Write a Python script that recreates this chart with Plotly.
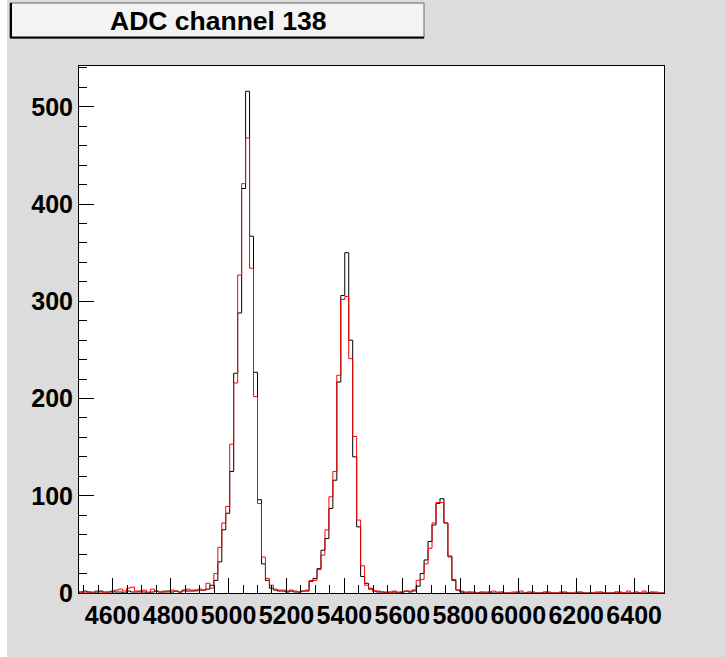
import plotly.graph_objects as go

# Histogram binning (data units)
bin_lo = 4484.0
bin_width = 13.69
x_range = [4484, 6503]
y_range = [0, 542]

x_tick_vals = [4600, 4800, 5000, 5200, 5400, 5600, 5800, 6000, 6200, 6400]
y_tick_vals = [0, 100, 200, 300, 400, 500]

title_text = "ADC channel 138"

counts_black = (
    [1, 2, 1, 0, 1, 2, 1, 1, 2, 1, 1, 0, 2, 1, 1, 2, 1, 0, 1, 2, 1, 1, 2, 1, 2, 1, 3, 2, 2, 3, 3]
    + [3, 4, 8, 13, 32, 65, 82, 125, 226, 288, 416, 516, 367, 227, 96, 30, 13, 5, 3, 2]
    + [2, 1, 2, 1, 1, 2]
    + [2, 12, 15, 25, 44, 56, 87, 116, 217, 306, 350, 260, 140, 68, 17, 10, 4, 2]
    + [1, 1, 0, 1, 1, 0, 1, 2, 1]
    + [3, 7, 20, 34, 53, 70, 92, 97, 72, 38, 13, 3, 1]
    + [0, 1, 0, 0, 1, 0, 1, 0, 0, 1, 0, 0, 0, 1, 0, 0, 1, 0, 0, 0, 1, 0, 0, 0, 0, 1,
       0, 0, 0, 1, 0, 0, 0, 0, 1, 0, 0, 0, 1, 0, 0, 0, 0, 1, 0, 0, 0, 1, 0, 0, 0]
)

counts_red = (
    [1, 0, 1, 1, 2, 1, 0, 1, 1, 3, 4, 2, 5, 6, 2, 1, 3, 1, 4, 2, 1, 2, 1, 3, 2, 1, 2, 4, 3, 2, 4]
    + [3, 10, 5, 20, 47, 72, 89, 153, 216, 327, 421, 468, 334, 202, 92, 37, 15, 8, 4, 3]
    + [3, 2, 3, 2, 1, 2]
    + [3, 13, 13, 24, 39, 65, 99, 125, 224, 302, 305, 241, 161, 75, 28, 8, 5, 2]
    + [2, 1, 1, 0, 2, 1, 1, 2, 2]
    + [2, 13, 14, 30, 46, 72, 93, 93, 72, 37, 14, 3, 2]
    + [1, 0, 1, 0, 0, 1, 0, 2, 1, 0, 0, 0, 1, 0, 2, 0, 0, 1, 0, 0, 0, 1, 0, 0, 1, 0,
       0, 0, 1, 0, 0, 0, 0, 1, 0, 0, 0, 0, 0, 1, 0, 2, 0, 0, 0, 2, 0, 0, 1, 0, 0]
)

n_bins = len(counts_black)
edges = [bin_lo + i * bin_width for i in range(n_bins + 1)]


def step_xy(counts):
    xs = [edges[0]] + edges
    ys = [0] + list(counts) + [counts[-1]]
    return xs, ys


fig = go.Figure()
xb, yb = step_xy(counts_black)
fig.add_trace(go.Scatter(x=xb, y=yb, mode="lines", line=dict(color="black", width=1, shape="hv"),
                         hoverinfo="skip", showlegend=False))
xr, yr = step_xy(counts_red)
fig.add_trace(go.Scatter(x=xr, y=yr, mode="lines", line=dict(color="red", width=1, shape="hv"),
                         hoverinfo="skip", showlegend=False))

W, H = 725, 657
ml, mr, mt, mb = 79, 61, 66, 64
pw, ph = W - ml - mr, H - mt - mb


def px_x(p):
    return (p - ml) / pw


def px_y(p):
    return 1 - (p - mt) / ph


tick_font = dict(family="Liberation Sans, Arial, sans-serif", size=25, color="black", weight="bold")

axis_common = dict(
    showline=True, linecolor="black", linewidth=1, mirror=True,
    ticks="inside", ticklen=15, tickwidth=1, tickcolor="black",
    showgrid=False, zeroline=False, tickfont=tick_font, fixedrange=True,
)

fig.update_xaxes(range=x_range, tickmode="array", tickvals=x_tick_vals,
                 ticktext=[str(v) for v in x_tick_vals],
                 minor=dict(ticks="inside", ticklen=8, dtick=50, tick0=4600, tickcolor="black", showgrid=False),
                 **axis_common)
fig.update_yaxes(range=y_range, tickmode="array", tickvals=y_tick_vals,
                 ticktext=[str(v) for v in y_tick_vals],
                 minor=dict(ticks="inside", ticklen=8, dtick=20, tick0=0, tickcolor="black", showgrid=False),
                 **axis_common)

shapes = [
    # white strip at left edge
    dict(type="rect", xref="paper", yref="paper", x0=px_x(0), x1=px_x(7), y0=px_y(0), y1=px_y(H),
         fillcolor="white", line=dict(width=0), layer="below"),
    # title box
    dict(type="rect", xref="paper", yref="paper", x0=px_x(10), x1=px_x(424), y0=px_y(38), y1=px_y(3),
         fillcolor="#f3f3f3", line=dict(color="#666666", width=1)),
    dict(type="line", xref="paper", yref="paper", x0=px_x(10), x1=px_x(424), y0=px_y(37.5), y1=px_y(37.5),
         line=dict(color="black", width=2)),
    dict(type="line", xref="paper", yref="paper", x0=px_x(11), x1=px_x(11), y0=px_y(3), y1=px_y(38),
         line=dict(color="black", width=2)),
]

fig.update_layout(
    width=W, height=H,
    margin=dict(l=ml, r=mr, t=mt, b=mb, pad=0),
    paper_bgcolor="#dcdcdc", plot_bgcolor="white",
    shapes=shapes,
    annotations=[dict(text=title_text, xref="paper", yref="paper", x=px_x(218), y=px_y(21),
                      xanchor="center", yanchor="middle", showarrow=False,
                      font=dict(family="Liberation Sans, Arial, sans-serif", size=26.5, color="black", weight="bold"))],
    showlegend=False,
)

fig.write_html("out.html", config={"displayModeBar": False})
